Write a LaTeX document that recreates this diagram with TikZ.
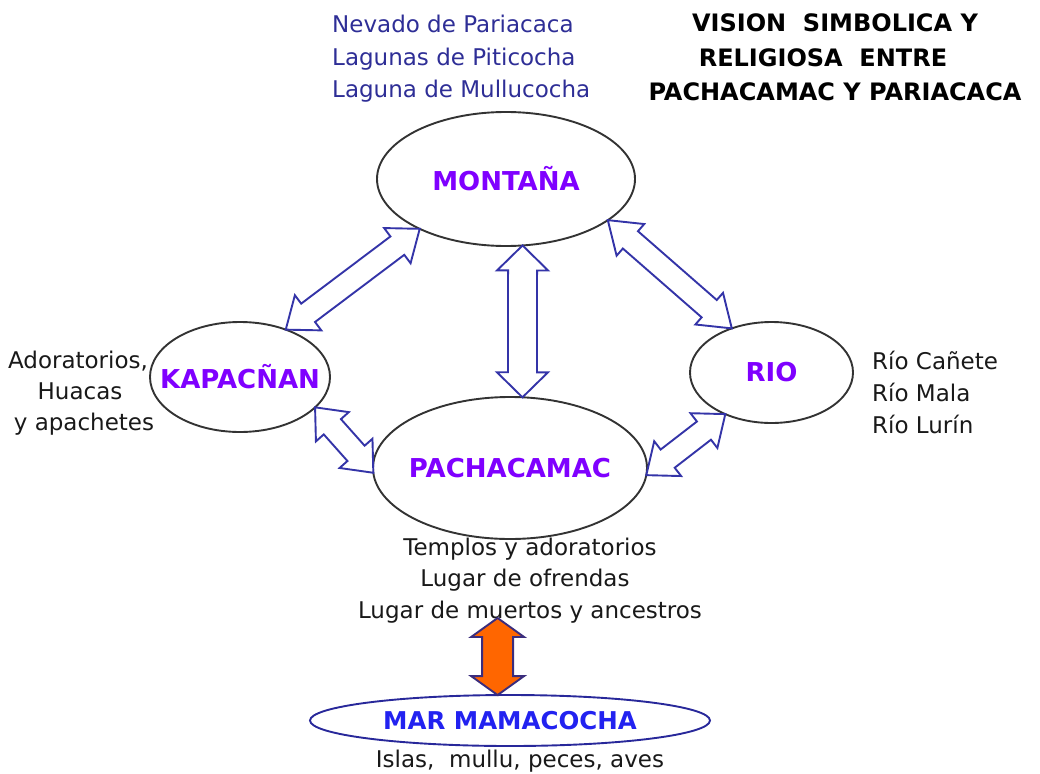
\documentclass[tikz,border=0pt]{standalone}
\usepackage{fontspec}
\setmainfont{DejaVu Sans}
\usepackage{xcolor}
\usepackage{tikz}
\usetikzlibrary{shapes.geometric,calc}
\definecolor{labpurple}{HTML}{7F00FF}
\definecolor{listblue}{HTML}{2E2E96}
\definecolor{arrblue}{HTML}{3434A8}
\definecolor{seablue}{HTML}{2222F0}
\definecolor{seaedge}{HTML}{28289A}
\definecolor{offorange}{HTML}{FF6600}
\definecolor{offedge}{HTML}{3B2D7D}
% block arrow with two heads: [style]{from}{to}{head length}{half head}{half shaft}
\newcommand{\dblarrow}[6][]{%
  \coordinate (h1) at ($(#2)!#4!(#3)$);
  \coordinate (h2) at ($(#3)!#4!(#2)$);
  \draw[#1] (#2) -- ($(h1)!#5!90:(#3)$) -- ($(h1)!#6!90:(#3)$)
    -- ($(h2)!#6!-90:(#2)$) -- ($(h2)!#5!-90:(#2)$) -- (#3)
    -- ($(h2)!#5!90:(#2)$) -- ($(h2)!#6!90:(#2)$)
    -- ($(h1)!#6!-90:(#3)$) -- ($(h1)!#5!-90:(#3)$) -- cycle;}

\begin{document}
\begin{tikzpicture}[
  x=1pt,y=-1pt,
  zone/.style={ellipse,draw=black!80,line width=1.9pt,inner sep=0pt,outer sep=0pt,
    font=\fontsize{26}{30}\selectfont\bfseries,text=labpurple},
  txt/.style={inner sep=0pt,font=\fontsize{23}{28}\selectfont,text=black!90},
  ttl/.style={inner sep=0pt,font=\fontsize{24}{28}\selectfont\bfseries},
  link/.style={draw=arrblue,line width=1.9pt,fill=white,line join=miter},
  offer/.style={draw=offedge,line width=1.9pt,fill=offorange,line join=miter}
]
\useasboundingbox (0,0) rectangle (1040,773);

% the five places
\node[zone,minimum width=258pt,minimum height=134pt] (mont) at (506,179) {\makebox[0pt]{MONTAÑA}};
\node[zone,minimum width=180pt,minimum height=110pt] (kap) at (240,377) {\makebox[0pt]{KAPACÑAN}};
\node[zone,minimum width=163pt,minimum height=101pt] (rio) at (771.5,372.5) {\makebox[0pt]{RIO}};
\node[zone,minimum width=274pt,minimum height=142pt] (pach) at (510,468) {\makebox[0pt]{PACHACAMAC}};
\node[zone,draw=seaedge,text=seablue,minimum width=400pt,minimum height=51pt,
  font=\fontsize{24.5}{28}\selectfont\bfseries] (mar) at (510,720.5) {\makebox[0pt]{MAR MAMACOCHA}};

% title
\node[ttl,anchor=base] (tit1) at (835,32) {VISION\ \ SIMBOLICA Y};
\node[ttl,anchor=base] (tit2) at (823,67) {RELIGIOSA\ \ ENTRE};
\node[ttl,anchor=base] (tit3) at (835,100) {PACHACAMAC Y PARIACACA};

% notes next to each place
\node[txt,text=listblue,anchor=base west] (nev) at (332,33) {Nevado de Pariacaca};
\node[txt,text=listblue,anchor=base west] (pit) at (332,65.5) {Lagunas de Piticocha};
\node[txt,text=listblue,anchor=base west] (mul) at (332,98) {Laguna de Mullucocha};

\node[txt,anchor=base] (ado) at (78,368) {Adoratorios,};
\node[txt,anchor=base] (hua) at (80,399) {Huacas};
\node[txt,anchor=base] (apa) at (84,430) {y apachetes};

\node[txt,anchor=base west] (can) at (872,369) {Río Cañete};
\node[txt,anchor=base west] (mal) at (872,401) {Río Mala};
\node[txt,anchor=base west] (lur) at (872,433) {Río Lurín};

\node[txt,anchor=base] (tem) at (530,555) {Templos y adoratorios};
\node[txt,anchor=base] (ofr) at (525,586) {Lugar de ofrendas};
\node[txt,anchor=base] (mue) at (530,618) {Lugar de muertos y ancestros};
\node[txt,anchor=base] (isl) at (520,767) {Islas,\ \ mullu, peces, aves};

% connections
\dblarrow[link]{kap.46}{mont.210}{28pt}{22pt}{11.5pt}
\dblarrow[link]{mont.284}{pach.80}{25pt}{25.5pt}{14.5pt}
\dblarrow[link]{mont.-22}{rio.132}{30pt}{21pt}{11.5pt}
\dblarrow[link]{kap.-22}{pach.182}{26pt}{22pt}{11.5pt}
\dblarrow[link]{rio.222}{pach.-3}{27pt}{22pt}{11.5pt}

\coordinate (ofrtop) at (mar.116 |- mue.base);
\dblarrow[offer]{ofrtop}{mar.116}{19pt}{26.5pt}{15.5pt}
\end{tikzpicture}
\end{document}
